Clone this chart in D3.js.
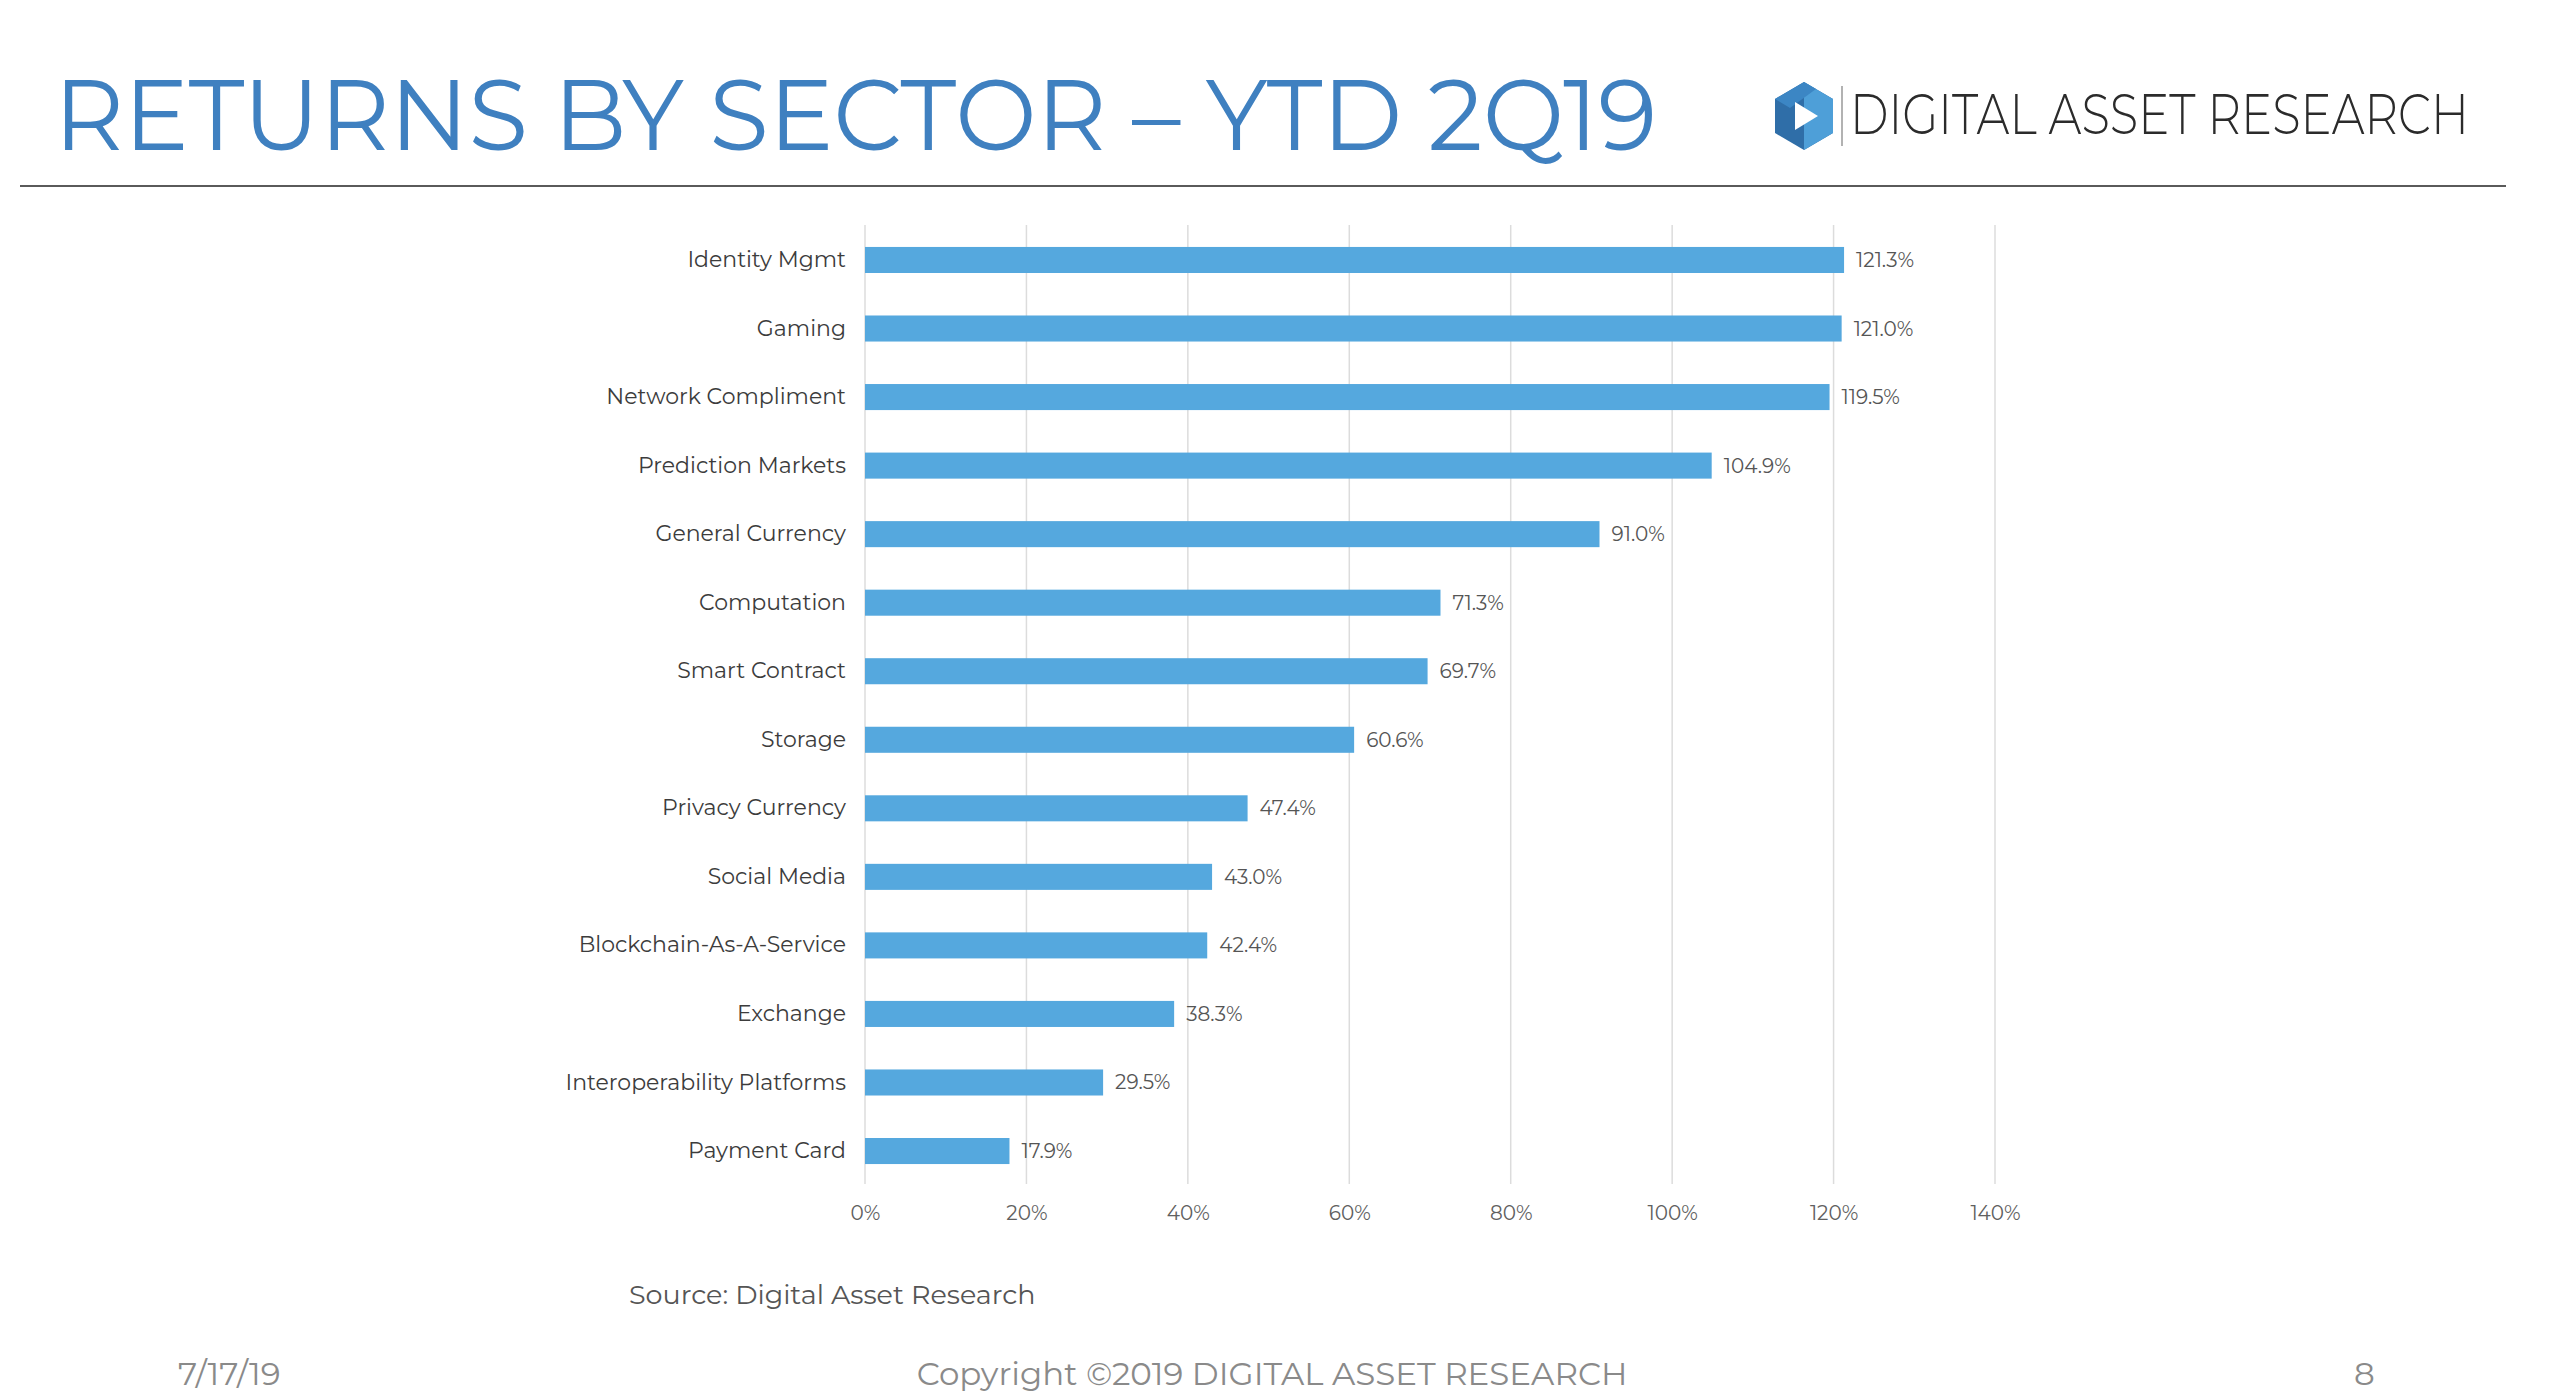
<!DOCTYPE html>
<html><head><meta charset="utf-8">
<script src="https://cdn.jsdelivr.net/npm/d3@7"></script>
<style>html,body{margin:0;padding:0;background:#fff;overflow:hidden}</style>
</head><body>
<svg id="c" width="2560" height="1394"></svg>
<script>
const categories = ["Identity Mgmt","Gaming","Network Compliment","Prediction Markets","General Currency","Computation","Smart Contract","Storage","Privacy Currency","Social Media","Blockchain-As-A-Service","Exchange","Interoperability Platforms","Payment Card"];
const values = [121.3,121.0,119.5,104.9,91.0,71.3,69.7,60.6,47.4,43.0,42.4,38.3,29.5,17.9];
const tickValues = [0,20,40,60,80,100,120,140];
const titleText = "RETURNS BY SECTOR – YTD 2Q19";
const brandText = "DIGITAL ASSET RESEARCH";
const sourceText = "Source: Digital Asset Research";
const footerDate = "7/17/19";
const footerCopy = "Copyright ©2019 DIGITAL ASSET RESEARCH";
const footerPage = "8";

const svg = d3.select("#c");
const font = "Montserrat, 'Open Sans', Lato, sans-serif";

// Title
svg.append("text").attr("x",54).attr("y",150).attr("font-family",font)
  .attr("font-size",100).attr("fill","#3f80c0").attr("textLength",1603)
  .attr("lengthAdjust","spacingAndGlyphs").text(titleText);

// rule
svg.append("line").attr("x1",20).attr("x2",2506).attr("y1",186).attr("y2",186)
  .attr("stroke","#5a5a5a").attr("stroke-width",2);

// logo icon
const g = svg.append("g").attr("transform","translate(1804,116)");
g.append("polygon").attr("points","0,-34 29,-17 29,17 0,34 -29,17 -29,-17").attr("fill","#2f6ea8");
g.append("polygon").attr("points","0,-34 29,-17 29,17 0,34 0,0").attr("fill","#4e9fd8");
g.append("polygon").attr("points","-29,-17 0,-34 12,-27 -14,-8").attr("fill","#3c86c4");
g.append("polygon").attr("points","-9,-14 14,0 -9,14").attr("fill","#ffffff");
svg.append("line").attr("x1",1842).attr("x2",1842).attr("y1",86).attr("y2",146).attr("stroke","#999").attr("stroke-width",1.5);
const brandG = svg.append("g");
const brand = brandG.append("text").attr("x",0).attr("y",0).attr("font-family",font)
  .attr("font-size",56).attr("font-weight",300).attr("fill","#2b2b2b").text(brandText);
const bw = brand.node().getComputedTextLength();
brandG.attr("transform",`translate(1850,134) scale(${619/bw},1)`);

// scales
const x = d3.scaleLinear().domain([0,140]).range([865,1995]);
const y = d3.scaleBand().domain(categories).range([225.7,1185.3]).paddingInner(0.62).paddingOuter(0.31);

// gridlines
svg.append("g").selectAll("line").data(tickValues).join("line")
  .attr("x1",d=>x(d)).attr("x2",d=>x(d)).attr("y1",225).attr("y2",1184)
  .attr("stroke","#dcdcdc").attr("stroke-width",1.5);

// x axis labels
const xa = svg.append("g").attr("transform","translate(0,1206)")
  .call(d3.axisBottom(x).tickValues(tickValues).tickFormat(d=>d+"%").tickSize(0).tickPadding(0));
xa.select(".domain").remove();
xa.selectAll("text").attr("font-family",font).attr("font-size",20).attr("fill","#606060").attr("dy","0.71em");

// y axis labels
const ya = svg.append("g").attr("transform","translate(846,0)")
  .call(d3.axisLeft(y).tickSize(0).tickPadding(0));
ya.select(".domain").remove();
ya.selectAll("text").attr("font-family",font).attr("font-size",22).attr("fill","#3c3c3c");

// bars
const data = categories.map((c,i)=>({c,v:values[i]}));
svg.append("g").selectAll("rect").data(data).join("rect")
  .attr("x",x(0)).attr("y",d=>y(d.c)).attr("width",d=>x(d.v)-x(0)).attr("height",y.bandwidth())
  .attr("fill","#55a8de");

// value labels
svg.append("g").selectAll("text").data(data).join("text")
  .attr("x",d=>x(d.v)+12).attr("y",d=>y(d.c)+y.bandwidth()/2).attr("dy","0.35em")
  .attr("font-family",font).attr("font-size",20).attr("fill","#555")
  .text(d=>d.v.toFixed(1)+"%");

// source
svg.append("text").attr("x",629).attr("y",1304).attr("font-family",font)
  .attr("font-size",27).attr("fill","#555").text(sourceText);

// footer
svg.append("text").attr("x",178).attr("y",1385).attr("font-family",font)
  .attr("font-size",32.5).attr("fill","#8a8a8a").text(footerDate);
svg.append("text").attr("x",1272).attr("y",1385).attr("text-anchor","middle").attr("font-family",font)
  .attr("font-size",32.5).attr("fill","#8a8a8a").text(footerCopy);
svg.append("text").attr("x",2354).attr("y",1385).attr("font-family",font)
  .attr("font-size",32.5).attr("fill","#8a8a8a").text(footerPage);
</script>
</body></html>
